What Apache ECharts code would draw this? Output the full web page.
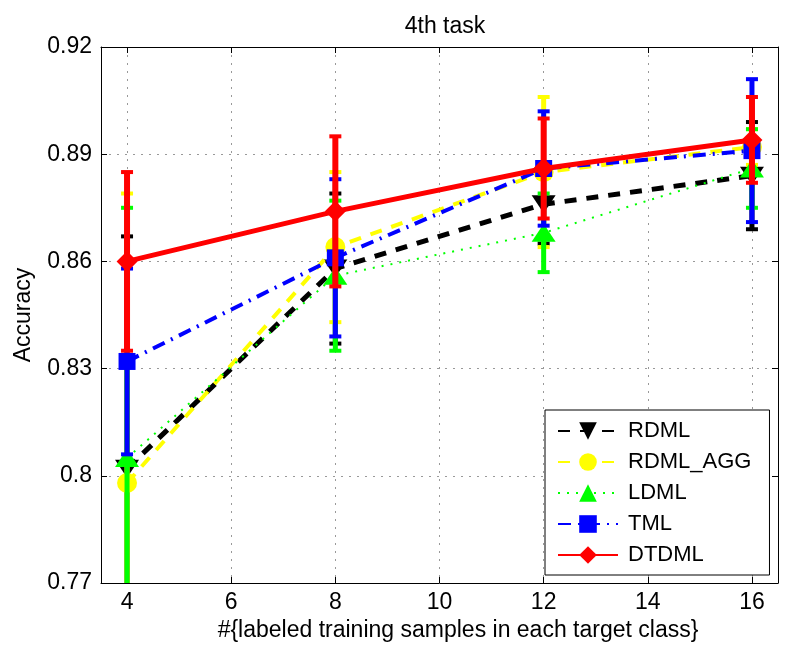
<!DOCTYPE html>
<html>
<head>
<meta charset="utf-8">
<title>4th task</title>
<script src="https://cdn.jsdelivr.net/npm/echarts@6/dist/echarts.min.js"></script>
<style>
  html, body { margin: 0; padding: 0; background: #fff; }
  #main { width: 812px; height: 653px; }
</style>
</head>
<body>
<div id="main"></div>
<script>
// x: labelled samples per target class
var sampleSizes = [4, 8, 12, 16];
var xTicks = [4, 6, 8, 10, 12, 14, 16];
var yTicks = [0.77, 0.8, 0.83, 0.86, 0.89, 0.92];

var seriesNames = ['RDML', 'RDML_AGG', 'LDML', 'TML', 'DTDML'];

// mean accuracy and error (half length of the bar)
var rdmlAcc = [0.802, 0.858, 0.876, 0.884];
var rdmlErr = [0.065, 0.021, 0.011, 0.015];

var rdmlAggAcc = [0.798, 0.864, 0.885, 0.892];
var rdmlAggErr = [0.081, 0.021, 0.021, 0.005];

var ldmlAcc = [0.805, 0.856, 0.868, 0.886];
var ldmlErr = [0.070, 0.021, 0.011, 0.011];

var tmlAcc = [0.832, 0.861, 0.886, 0.891];
var tmlErr = [0.026, 0.022, 0.016, 0.020];

var dtdmlAcc = [0.860, 0.874, 0.886, 0.894];
var dtdmlErr = [0.025, 0.021, 0.014, 0.012];

var X_MIN = 3.5, X_MAX = 16.5;
var Y_MIN = 0.77, Y_MAX = 0.92;
var FONT = '"Liberation Sans", Arial, Helvetica, sans-serif';

// look of each method (matlab-ish)
var looks = [
  { color: '#000000', dash: [12, 10], width: 5, symbol: 'triangle', rotate: 180, size: [24, 18], bar: 5 },
  { color: '#ffff00', dash: [12, 10], width: 4, symbol: 'circle', rotate: 0, size: 20, bar: 5 },
  { color: '#00ff00', dash: [2, 7], width: 2, symbol: 'triangle', rotate: 0, size: [24, 18], bar: 5 },
  { color: '#0000ff', dash: [13, 7, 2, 7], width: 4, symbol: 'rect', rotate: 0, size: 17, bar: 5 },
  { color: '#ff0000', dash: 'solid', width: 5, symbol: 'diamond', rotate: 0, size: 21, bar: 6 }
];

var accs = [rdmlAcc, rdmlAggAcc, ldmlAcc, tmlAcc, dtdmlAcc];
var errs = [rdmlErr, rdmlAggErr, ldmlErr, tmlErr, dtdmlErr];

function errorBarRenderer(color, barWidth) {
  return function (params, api) {
    var x = api.value(0);
    var lo = api.value(1), hi = api.value(2);
    var top = api.coord([x, Math.min(hi, Y_MAX)]);
    var bot = api.coord([x, Math.max(lo, Y_MIN)]);
    var kids = [{
      type: 'line',
      shape: { x1: top[0], y1: top[1], x2: bot[0], y2: bot[1] },
      style: { stroke: color, lineWidth: barWidth }
    }];
    if (hi <= Y_MAX) {
      kids.push({ type: 'rect', shape: { x: top[0] - 6, y: top[1] - 2, width: 12, height: 4 }, style: { fill: color } });
    }
    if (lo >= Y_MIN) {
      kids.push({ type: 'rect', shape: { x: bot[0] - 6, y: bot[1] - 2, width: 12, height: 4 }, style: { fill: color } });
    }
    return { type: 'group', children: kids };
  };
}

var series = [];
seriesNames.forEach(function (name, i) {
  var lk = looks[i];
  var barData = sampleSizes.map(function (x, j) {
    return [x, accs[i][j] - errs[i][j], accs[i][j] + errs[i][j]];
  });
  var lineData = sampleSizes.map(function (x, j) { return [x, accs[i][j]]; });
  series.push({
    name: name + ' err',
    type: 'custom',
    renderItem: errorBarRenderer(lk.color, lk.bar),
    encode: { x: 0, y: [1, 2] },
    data: barData,
    clip: true,
    z: 10 + 2 * i,
    silent: true
  });
  series.push({
    name: name,
    type: 'line',
    data: lineData,
    symbol: lk.symbol,
    symbolRotate: lk.rotate,
    symbolSize: lk.size,
    showSymbol: true,
    lineStyle: { color: lk.color, width: lk.width, type: lk.dash },
    itemStyle: { color: lk.color, borderWidth: 0 },
    z: 11 + 2 * i
  });
});

var chart = echarts.init(document.getElementById('main'));

var option = {
  animation: false,
  backgroundColor: '#fff',
  title: {
    text: '4th task',
    left: 440,
    textAlign: 'center',
    top: 10,
    textStyle: { fontFamily: FONT, fontSize: 23, fontWeight: 'normal', color: '#000' }
  },
  legend: {
    data: seriesNames,
    orient: 'vertical',
    left: 545,
    top: 410,
    padding: [10, 18, 9, 12],
    itemWidth: 60,
    itemHeight: 22,
    itemGap: 9,
    backgroundColor: '#fff',
    borderColor: '#000',
    borderWidth: 1,
    borderRadius: 0,
    z: 100,
    textStyle: { fontFamily: FONT, fontSize: 22, color: '#000', padding: [0, 0, 0, 5] }
  },
  grid: { left: 101, right: 34, top: 47, bottom: 70 },
  xAxis: [{
    type: 'value',
    min: X_MIN,
    max: X_MAX,
    name: '#{labeled training samples in each target class}',
    nameLocation: 'middle',
    nameGap: 36,
    nameTextStyle: { fontFamily: FONT, fontSize: 23, color: '#000', padding: [0, 0, 0, 37] },
    axisLine: { onZero: false, lineStyle: { color: '#000', width: 1 } },
    axisTick: { inside: true, length: 6, customValues: xTicks, lineStyle: { color: '#000' } },
    axisLabel: { customValues: xTicks, margin: 8, fontFamily: FONT, fontSize: 23, color: '#000' },
    splitLine: { show: true, lineStyle: { color: '#999', width: 1, type: [2, 6] } }
  }, {
    type: 'value',
    position: 'top',
    min: X_MIN,
    max: X_MAX,
    axisLine: { onZero: false, lineStyle: { color: '#000', width: 1 } },
    axisTick: { inside: true, length: 6, customValues: xTicks, lineStyle: { color: '#000' } },
    axisLabel: { show: false },
    splitLine: { show: false }
  }],
  yAxis: [{
    type: 'value',
    min: Y_MIN,
    max: Y_MAX,
    name: 'Accuracy',
    nameLocation: 'middle',
    nameGap: 66,
    nameRotate: 90,
    nameTextStyle: { fontFamily: FONT, fontSize: 23, color: '#000' },
    axisLine: { show: true, onZero: false, lineStyle: { color: '#000', width: 1 } },
    axisTick: { show: true, inside: true, length: 6, customValues: yTicks, lineStyle: { color: '#000' } },
    axisLabel: { customValues: yTicks, margin: 9, fontFamily: FONT, fontSize: 23, color: '#000' },
    splitLine: { show: true, lineStyle: { color: '#999', width: 1, type: [2, 6] } }
  }, {
    type: 'value',
    position: 'right',
    min: Y_MIN,
    max: Y_MAX,
    axisLine: { show: true, onZero: false, lineStyle: { color: '#000', width: 1 } },
    axisTick: { show: true, inside: true, length: 6, customValues: yTicks, lineStyle: { color: '#000' } },
    axisLabel: { show: false },
    splitLine: { show: false }
  }],
  series: series
};

chart.setOption(option);
</script>
</body>
</html>
